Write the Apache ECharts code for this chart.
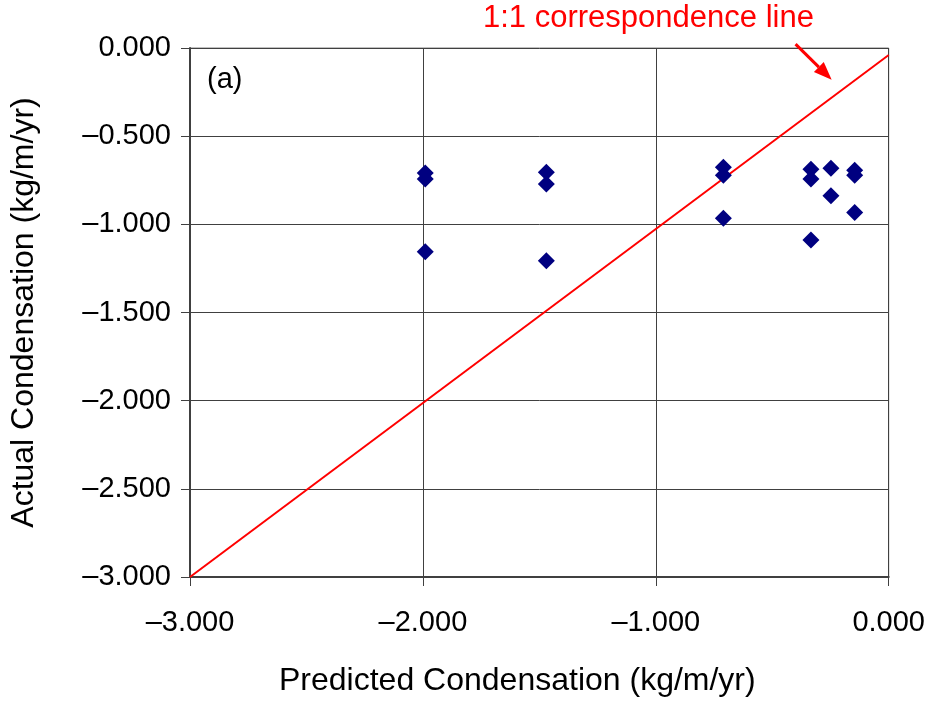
<!DOCTYPE html>
<html>
<head>
<meta charset="utf-8">
<script src="https://cdn.jsdelivr.net/npm/echarts@6/dist/echarts.min.js"></script>
<style>
html,body{margin:0;padding:0;background:#fff;}
#chart{width:928px;height:702px;}
</style>
</head>
<body>
<div id="chart"></div>
<script>
// Data
var predicted = [-1.99, -1.99, -1.99, -1.47, -1.47, -1.47, -0.71, -0.71, -0.71, -0.334, -0.334, -0.334, -0.248, -0.248, -0.146, -0.146, -0.146];
var actual    = [-0.709, -0.743, -1.156, -0.704, -0.771, -1.207, -0.676, -0.721, -0.966, -0.687, -0.743, -1.089, -0.682, -0.838, -0.693, -0.721, -0.933];
var lineX = [-3, 0];
var lineY = [-3, -0.04];
var arrowFrom = [-0.40, 0.022];
var arrowTo = [-0.245, -0.18];
var annotationText = '1:1 correspondence line';
var panelLabel = '(a)';
var xTitle = 'Predicted Condensation (kg/m/yr)';
var yTitle = 'Actual Condensation (kg/m/yr)';

var FONT = '"Liberation Sans", Arial, sans-serif';
function fmt(v) {
  return (v < 0 ? '\u2013' : '') + Math.abs(v).toFixed(3);
}
var points = predicted.map(function (p, i) { return [p, actual[i]]; });
var linePts = lineX.map(function (x, i) { return [x, lineY[i]]; });

var chart = echarts.init(document.getElementById('chart'), null, {renderer: 'canvas'});
chart.setOption({
  backgroundColor: '#ffffff',
  animation: false,
  grid: {left: 190, right: 38, top: 48, bottom: 117, show: true, borderColor: '#808080', borderWidth: 1, backgroundColor: 'transparent'},
  xAxis: {
    type: 'value', min: -3, max: 0, interval: 1,
    name: xTitle, nameLocation: 'middle', nameGap: 88,
    nameTextStyle: {fontFamily: FONT, fontSize: 32, color: '#000', padding: [0, 44, 0, 0]},
    axisLine: {onZero: false, lineStyle: {color: '#404040', width: 2}},
    axisTick: {show: true, inside: false, length: 9, lineStyle: {color: '#404040', width: 1}},
    axisLabel: {fontFamily: FONT, fontSize: 29, color: '#000', margin: 31, formatter: fmt},
    splitLine: {show: true, lineStyle: {color: '#404040', width: 1}}
  },
  yAxis: {
    type: 'value', min: -3, max: 0, interval: 0.5,
    name: yTitle, nameLocation: 'middle', nameGap: 150, nameRotate: 90,
    nameTextStyle: {fontFamily: FONT, fontSize: 32, color: '#000'},
    axisLine: {onZero: false, lineStyle: {color: '#404040', width: 2}},
    axisTick: {show: true, inside: false, length: 9, lineStyle: {color: '#404040', width: 1}},
    axisLabel: {fontFamily: FONT, fontSize: 29, color: '#000', margin: 19, formatter: fmt},
    splitLine: {show: true, lineStyle: {color: '#404040', width: 1}}
  },
  series: [
    {
      type: 'line', data: linePts, showSymbol: false, symbol: 'none', clip: false,
      lineStyle: {color: '#ff0000', width: 2}, z: 3
    },
    {
      type: 'scatter', data: points, symbol: 'diamond', symbolSize: 17,
      itemStyle: {color: '#000080', opacity: 1}, z: 4
    }
  ],
  graphic: [
    {type: 'text', left: 483, top: 3, style: {text: annotationText, font: '31px ' + FONT, fill: '#ff0000'}},
    {type: 'text', left: 207, top: 65, style: {text: panelLabel, font: '29px ' + FONT, fill: '#000'}}
  ]
});

// Arrow pointing at the 1:1 line, positioned through the axes
var p0 = chart.convertToPixel({gridIndex: 0}, arrowFrom);
var p1 = chart.convertToPixel({gridIndex: 0}, arrowTo);
var dx = p1[0] - p0[0], dy = p1[1] - p0[1];
var len = Math.sqrt(dx * dx + dy * dy);
var ux = dx / len, uy = dy / len;
var headLen = 18, headHalf = 7;
var bx = p1[0] - ux * headLen, by = p1[1] - uy * headLen;
chart.setOption({
  graphic: [
    {type: 'text', left: 483, top: 3, style: {text: annotationText, font: '31px ' + FONT, fill: '#ff0000'}},
    {type: 'text', left: 207, top: 65, style: {text: panelLabel, font: '29px ' + FONT, fill: '#000'}},
    {type: 'line', z: 10, shape: {x1: p0[0], y1: p0[1], x2: bx, y2: by}, style: {stroke: '#ff0000', lineWidth: 3}},
    {type: 'polygon', z: 10, shape: {points: [[p1[0], p1[1]], [bx - uy * headHalf, by + ux * headHalf], [bx + uy * headHalf, by - ux * headHalf]]}, style: {fill: '#ff0000'}}
  ]
}, {replaceMerge: ['graphic']});
</script>
</body>
</html>
